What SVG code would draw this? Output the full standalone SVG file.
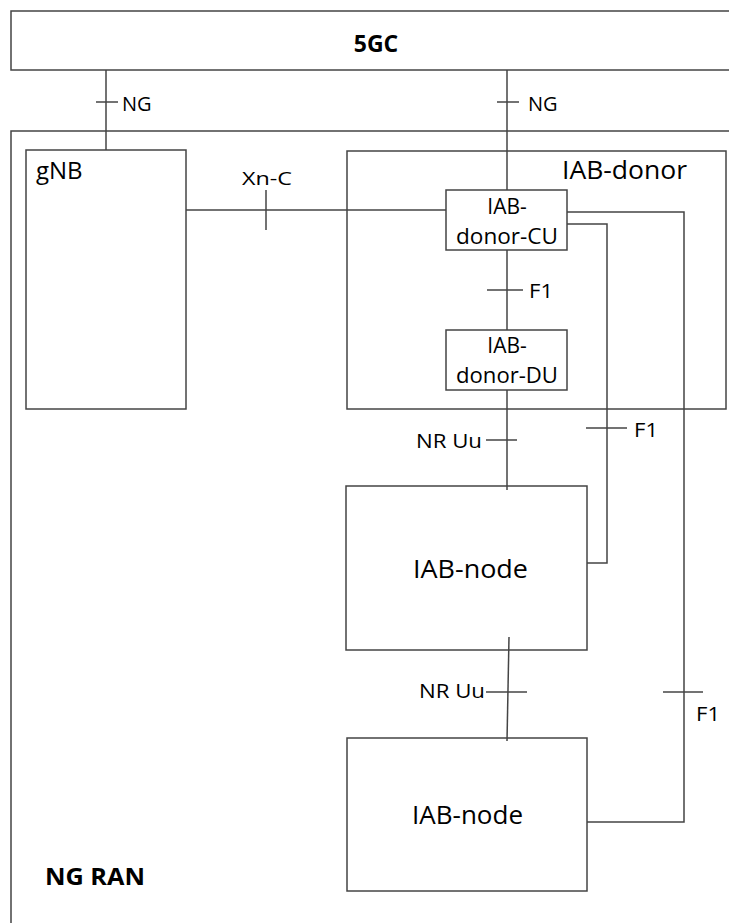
<svg xmlns="http://www.w3.org/2000/svg" width="729" height="923" viewBox="0 0 729 923">
<style>
  .box{fill:#fff;stroke:#444;stroke-width:1.5}
  .ln{fill:none;stroke:#444;stroke-width:1.5}
  text{font-family:"Open Sans","Liberation Sans",sans-serif;fill:#000}
  .lbl{font-size:20px}
  .nd{font-size:21px}
  .big{font-size:26px}
  .bold{font-weight:bold}
</style>
<rect width="729" height="923" fill="#fff"/>
<g id="core">
  <rect class="box" x="11" y="11" width="730" height="59"/>
  <text class="bold" x="376" y="52" font-size="23" text-anchor="middle">5GC</text>
</g>
<g id="ngran">
  <path class="ln" d="M11 935 V131 H740"/>
  <text class="bold" x="45" y="885" font-size="24" textLength="100" lengthAdjust="spacingAndGlyphs">NG RAN</text>
</g>
<g id="gnb">
  <rect class="box" x="26" y="150" width="160" height="259"/>
  <text x="36" y="179" font-size="24">gNB</text>
</g>
<g id="iab-donor">
  <rect class="box" x="347" y="151" width="379" height="258"/>
  <text class="big" x="562" y="179" textLength="125" lengthAdjust="spacingAndGlyphs">IAB-donor</text>
</g>
<g id="iab-donor-cu">
  <rect class="box" x="446" y="190" width="121" height="60"/>
  <text class="nd" x="507" y="214" text-anchor="middle">IAB-</text>
  <text class="nd" x="456" y="244" textLength="102" lengthAdjust="spacingAndGlyphs">donor-CU</text>
</g>
<g id="iab-donor-du">
  <rect class="box" x="446" y="330" width="121" height="60"/>
  <text class="nd" x="507" y="353" text-anchor="middle">IAB-</text>
  <text class="nd" x="456" y="383" textLength="102" lengthAdjust="spacingAndGlyphs">donor-DU</text>
</g>
<g id="iab-node-1">
  <rect class="box" x="346" y="486" width="241" height="164"/>
  <text class="big" x="413" y="578" textLength="115" lengthAdjust="spacingAndGlyphs">IAB-node</text>
</g>
<g id="iab-node-2">
  <rect class="box" x="347" y="738" width="240" height="153"/>
  <text class="big" x="412" y="824" textLength="111" lengthAdjust="spacingAndGlyphs">IAB-node</text>
</g>
<g id="connectors">
  <path class="ln" d="M106 70 V150"/>
  <path class="ln" d="M96 102 H118"/>
  <path class="ln" d="M507 70 V190"/>
  <path class="ln" d="M497 102 H519"/>
  <path class="ln" d="M186 210 H446"/>
  <path class="ln" d="M266 190 V230"/>
  <path class="ln" d="M507 250 V330"/>
  <path class="ln" d="M487 290 H523"/>
  <path class="ln" d="M567 212 H684 V822 H587"/>
  <path class="ln" d="M567 224 H607 V563 H587"/>
  <path class="ln" d="M586 428 H627"/>
  <path class="ln" d="M663 692 H703"/>
  <path class="ln" d="M507 390 V490"/>
  <path class="ln" d="M486 440 H517"/>
  <path class="ln" d="M509 637 L507 741"/>
  <path class="ln" d="M486 692 H527"/>
</g>
<g id="labels">
  <text class="lbl" x="122" y="111">NG</text>
  <text class="lbl" x="528" y="111">NG</text>
  <text x="242" y="185" font-size="18" textLength="50" lengthAdjust="spacingAndGlyphs">Xn-C</text>
  <text class="lbl" x="529" y="298" textLength="24" lengthAdjust="spacingAndGlyphs">F1</text>
  <text class="lbl" x="416" y="448" textLength="66" lengthAdjust="spacingAndGlyphs">NR Uu</text>
  <text class="lbl" x="634" y="437" textLength="24" lengthAdjust="spacingAndGlyphs">F1</text>
  <text class="lbl" x="419" y="698" textLength="66" lengthAdjust="spacingAndGlyphs">NR Uu</text>
  <text class="lbl" x="696" y="721" textLength="24" lengthAdjust="spacingAndGlyphs">F1</text>
</g>
</svg>
